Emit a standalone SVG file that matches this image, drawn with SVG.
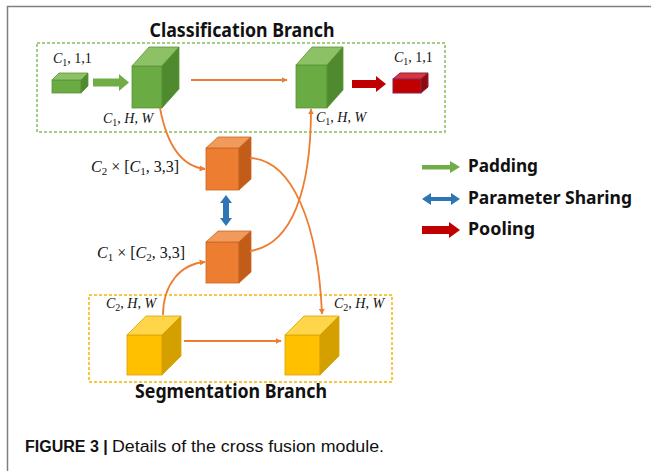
<svg xmlns="http://www.w3.org/2000/svg" width="651" height="471" viewBox="0 0 651 471">
<defs>
<style>
.frame{stroke:#7f7f7f;stroke-width:1.5;fill:none}
.title{font-family:"Noto Sans","Liberation Sans",sans-serif;font-weight:bold;font-size:19px;fill:#111}
.leg{font-family:"Noto Sans","Liberation Sans",sans-serif;font-weight:bold;font-size:17px;fill:#111}
.math{font-family:"Liberation Serif","DejaVu Serif",serif;font-size:14px;fill:#111}
.math2{font-family:"Liberation Serif","DejaVu Serif",serif;font-size:16px;fill:#111}
.it{font-style:italic}
.cap{font-family:"Liberation Sans",Arial,sans-serif;font-size:16px;fill:#111}
.gbox{fill:none;stroke:#86bf5c;stroke-width:1.5;stroke-dasharray:3 2}
.ybox{fill:none;stroke:#f2b705;stroke-width:1.5;stroke-dasharray:3 2}
.conn{fill:none;stroke:#ed7d31;stroke-width:1.8}
.gF{fill:#6aab44;stroke:#5a9438;stroke-width:0.8}
.gT{fill:#8cc166;stroke:#5a9438;stroke-width:0.8}
.gR{fill:#4f8a2e;stroke:#5a9438;stroke-width:0.8}
.oF{fill:#ed7d31;stroke:#c9651f;stroke-width:0.8}
.oT{fill:#f2995c;stroke:#c9651f;stroke-width:0.8}
.oR{fill:#c25c19;stroke:#c9651f;stroke-width:0.8}
.yF{fill:#ffc000;stroke:#d9a300;stroke-width:0.8}
.yT{fill:#ffd54a;stroke:#d9a300;stroke-width:0.8}
.yR{fill:#d4a000;stroke:#d9a300;stroke-width:0.8}
.rF{fill:#c00000;stroke:#8e1e4e;stroke-width:1}
.rT{fill:#d6373d;stroke:#8e1e4e;stroke-width:1}
.rR{fill:#8f0a0a;stroke:#8e1e4e;stroke-width:1}
</style>
<marker id="ah" viewBox="0 0 10 10" refX="9" refY="5" markerWidth="6" markerHeight="6" orient="auto" markerUnits="userSpaceOnUse">
<path d="M0,0 L10,5 L0,10 Z" fill="#ed7d31"/>
</marker>
</defs>
<rect width="651" height="471" fill="#ffffff"/>
<path class="frame" d="M651,6.5 H7.5 V471"/>

<g id="classification-branch">
<rect class="gbox" x="37" y="43" width="408" height="89"/>
<text class="title" x="242" y="37" text-anchor="middle" textLength="185" lengthAdjust="spacingAndGlyphs">Classification Branch</text>
</g>
<g id="segmentation-branch">
<rect class="ybox" x="89" y="295" width="303" height="87"/>
<text class="title" x="231" y="398" text-anchor="middle" textLength="192" lengthAdjust="spacingAndGlyphs">Segmentation Branch</text>
</g>

<g id="cls-input">
<rect class="gF" x="52" y="80" width="29" height="13"/>
<polygon class="gT" points="52,80 59,73 88,73 81,80"/>
<polygon class="gR" points="81,80 88,73 88,86 81,93"/>
<text class="math" x="53" y="63"><tspan class="it">C</tspan><tspan font-size="10" dy="3">1</tspan><tspan dy="-3">, 1,1</tspan></text>
</g>

<g id="cls-feat-1">
<rect class="gF" x="132" y="66" width="30" height="42"/>
<polygon class="gT" points="132,66 149,47 179,47 162,66"/>
<polygon class="gR" points="162,66 179,47 179,89 162,108"/>
<text class="math" x="103" y="123"><tspan class="it">C</tspan><tspan font-size="10" dy="3">1</tspan><tspan dy="-3">, </tspan><tspan class="it">H</tspan><tspan>, </tspan><tspan class="it">W</tspan></text>
</g>

<g id="cls-feat-2">
<rect class="gF" x="296" y="65" width="31" height="43"/>
<polygon class="gT" points="296,65 312,47 343,47 327,65"/>
<polygon class="gR" points="327,65 343,47 343,90 327,108"/>
<text class="math" x="316" y="122"><tspan class="it">C</tspan><tspan font-size="10" dy="3">1</tspan><tspan dy="-3">, </tspan><tspan class="it">H</tspan><tspan>, </tspan><tspan class="it">W</tspan></text>
</g>

<g id="cls-output">
<rect class="rF" x="393" y="79" width="28" height="14"/>
<polygon class="rT" points="393,79 400,73 428,73 421,79"/>
<polygon class="rR" points="421,79 428,73 428,87 421,93"/>
<text class="math" x="394" y="62"><tspan class="it">C</tspan><tspan font-size="10" dy="3">1</tspan><tspan dy="-3">, 1,1</tspan></text>
</g>

<g id="kernel-1">
<rect class="oF" x="206" y="148" width="33" height="42"/>
<polygon class="oT" points="206,148 218,137 251,137 239,148"/>
<polygon class="oR" points="239,148 251,137 251,179 239,190"/>
<text class="math2" x="91" y="172"><tspan class="it">C</tspan><tspan font-size="11" dy="3">2</tspan><tspan dy="-3"> × [</tspan><tspan class="it">C</tspan><tspan font-size="11" dy="3">1</tspan><tspan dy="-3">, 3,3]</tspan></text>
</g>

<g id="kernel-2">
<rect class="oF" x="206" y="242" width="33" height="41"/>
<polygon class="oT" points="206,242 218,231 251,231 239,242"/>
<polygon class="oR" points="239,242 251,231 251,272 239,283"/>
<text class="math2" x="97" y="258"><tspan class="it">C</tspan><tspan font-size="11" dy="3">1</tspan><tspan dy="-3"> × [</tspan><tspan class="it">C</tspan><tspan font-size="11" dy="3">2</tspan><tspan dy="-3">, 3,3]</tspan></text>
</g>

<g id="seg-feat-1">
<rect class="yF" x="127" y="335" width="35" height="40"/>
<polygon class="yT" points="127,335 146,316 181,316 162,335"/>
<polygon class="yR" points="162,335 181,316 181,356 162,375"/>
<text class="math" x="106" y="308"><tspan class="it">C</tspan><tspan font-size="10" dy="3">2</tspan><tspan dy="-3">, </tspan><tspan class="it">H</tspan><tspan>, </tspan><tspan class="it">W</tspan></text>
</g>

<g id="seg-feat-2">
<rect class="yF" x="285" y="335" width="35" height="40"/>
<polygon class="yT" points="285,335 304,316 339,316 320,335"/>
<polygon class="yR" points="320,335 339,316 339,356 320,375"/>
<text class="math" x="334" y="308"><tspan class="it">C</tspan><tspan font-size="10" dy="3">2</tspan><tspan dy="-3">, </tspan><tspan class="it">H</tspan><tspan>, </tspan><tspan class="it">W</tspan></text>
</g>

<g id="connectors">
<polygon fill="#70ad47" points="93,78.5 119,78.5 119,74 129,82.5 119,91 119,86.5 93,86.5"/>
<polygon fill="#c00000" points="352,80 376,80 376,76 386,84 376,92 376,88 352,88"/>
<path class="conn" d="M191,80 H287" marker-end="url(#ah)"/>
<path class="conn" d="M184,341 H281" marker-end="url(#ah)"/>
<path class="conn" d="M160,108 C166,140 178,166 205,169" marker-end="url(#ah)"/>
<path class="conn" d="M250,158 C292,160 318,222 322,314" marker-end="url(#ah)"/>
<path class="conn" d="M250,251 C292,245 311,190 311,109" marker-end="url(#ah)"/>
<path class="conn" d="M163,315 C163,285 180,264 205,262" marker-end="url(#ah)"/>
<polygon fill="#2e75b6" points="226,195 232,203 229,203 229,218 232,218 226,226 220,218 223,218 223,203 220,203"/>
</g>

<g id="legend">
<polygon fill="#70ad47" points="422,165 450,165 450,161 460,167 450,173 450,169.5 422,169.5"/>
<text class="leg" x="468" y="172" textLength="70" lengthAdjust="spacingAndGlyphs">Padding</text>
<polygon fill="#2e75b6" points="422,199 431,193 431,197 451,197 451,193 460,199 451,205 451,201 431,201 431,205"/>
<text class="leg" x="468" y="204" textLength="164" lengthAdjust="spacingAndGlyphs">Parameter Sharing</text>
<polygon fill="#c00000" points="422,226 449,226 449,222 460,230 449,238 449,234 422,234"/>
<text class="leg" x="468" y="235" textLength="67" lengthAdjust="spacingAndGlyphs">Pooling</text>
</g>

<g id="caption">
<text class="cap" x="25" y="452" font-weight="bold">FIGURE 3 |</text>
<text class="cap" x="112" y="452" textLength="272" lengthAdjust="spacingAndGlyphs">Details of the cross fusion module.</text>
</g>
</svg>
